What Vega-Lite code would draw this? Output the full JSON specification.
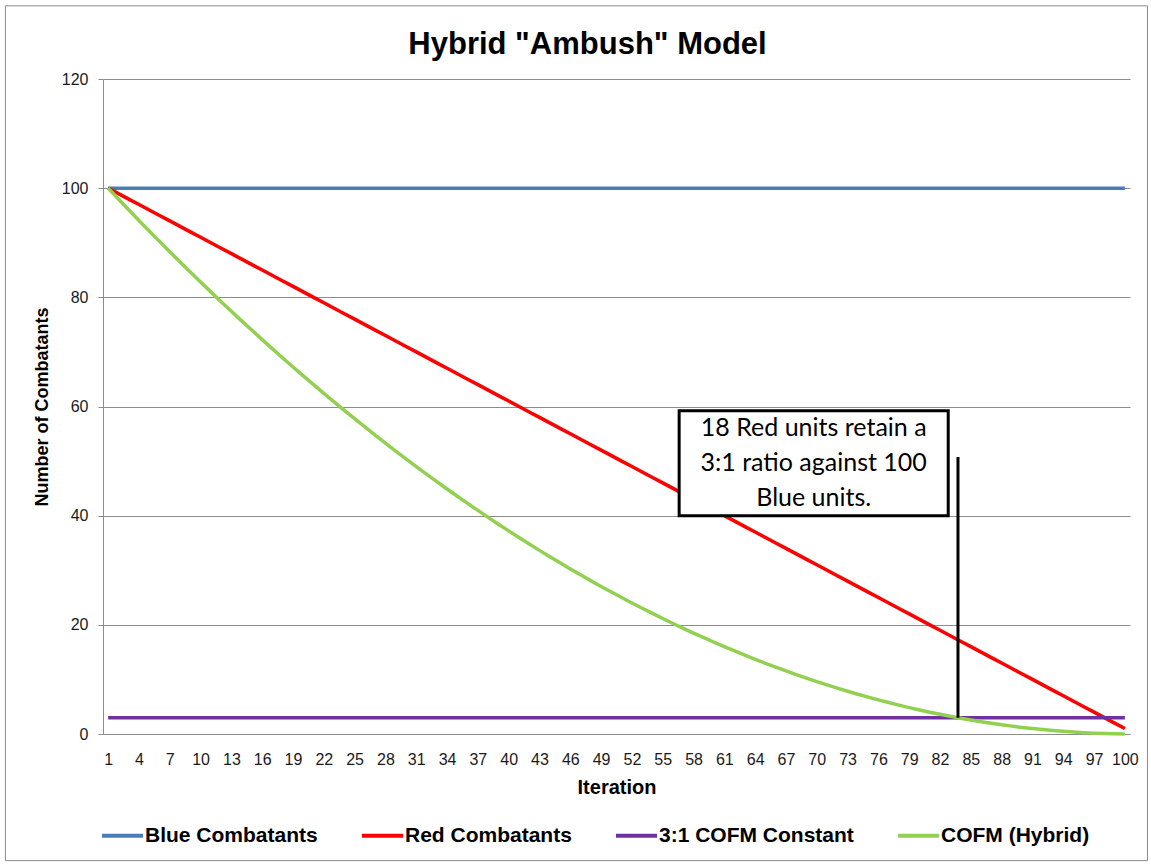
{
  "$schema": "https://vega.github.io/schema/vega-lite/v6.json",
  "autosize": "none",
  "width": 1027,
  "height": 655,
  "padding": {"left": 103, "top": 79, "right": 21, "bottom": 131},
  "background": "white",
  "config": {
    "view": {"stroke": null},
    "font": "Liberation Sans",
    "axis": {"labelOverlap": false, "labelSeparation": 0},
    "axisX": {"labelOverlap": false},
    "axisQuantitative": {"labelOverlap": false}
  },
  "title": {
    "text": "Hybrid \"Ambush\" Model",
    "font": "Liberation Sans",
    "fontSize": 31,
    "fontWeight": "bold",
    "color": "#000000",
    "anchor": "middle",
    "frame": "group",
    "dx": -29,
    "dy": 36,
    "baseline": "bottom",
    "offset": -51
  },
  "datasets": {
    "series": [
      {"i":1,"Blue Combatants":100,"Red Combatants":100,"3:1 COFM Constant":3,"COFM (Hybrid)":100},
      {"i":2,"Blue Combatants":100,"Red Combatants":99,"3:1 COFM Constant":3,"COFM (Hybrid)":98.01},
      {"i":3,"Blue Combatants":100,"Red Combatants":98,"3:1 COFM Constant":3,"COFM (Hybrid)":96.04},
      {"i":4,"Blue Combatants":100,"Red Combatants":97,"3:1 COFM Constant":3,"COFM (Hybrid)":94.09},
      {"i":5,"Blue Combatants":100,"Red Combatants":96,"3:1 COFM Constant":3,"COFM (Hybrid)":92.16},
      {"i":6,"Blue Combatants":100,"Red Combatants":95,"3:1 COFM Constant":3,"COFM (Hybrid)":90.25},
      {"i":7,"Blue Combatants":100,"Red Combatants":94,"3:1 COFM Constant":3,"COFM (Hybrid)":88.36},
      {"i":8,"Blue Combatants":100,"Red Combatants":93,"3:1 COFM Constant":3,"COFM (Hybrid)":86.49},
      {"i":9,"Blue Combatants":100,"Red Combatants":92,"3:1 COFM Constant":3,"COFM (Hybrid)":84.64},
      {"i":10,"Blue Combatants":100,"Red Combatants":91,"3:1 COFM Constant":3,"COFM (Hybrid)":82.81},
      {"i":11,"Blue Combatants":100,"Red Combatants":90,"3:1 COFM Constant":3,"COFM (Hybrid)":81},
      {"i":12,"Blue Combatants":100,"Red Combatants":89,"3:1 COFM Constant":3,"COFM (Hybrid)":79.21},
      {"i":13,"Blue Combatants":100,"Red Combatants":88,"3:1 COFM Constant":3,"COFM (Hybrid)":77.44},
      {"i":14,"Blue Combatants":100,"Red Combatants":87,"3:1 COFM Constant":3,"COFM (Hybrid)":75.69},
      {"i":15,"Blue Combatants":100,"Red Combatants":86,"3:1 COFM Constant":3,"COFM (Hybrid)":73.96},
      {"i":16,"Blue Combatants":100,"Red Combatants":85,"3:1 COFM Constant":3,"COFM (Hybrid)":72.25},
      {"i":17,"Blue Combatants":100,"Red Combatants":84,"3:1 COFM Constant":3,"COFM (Hybrid)":70.56},
      {"i":18,"Blue Combatants":100,"Red Combatants":83,"3:1 COFM Constant":3,"COFM (Hybrid)":68.89},
      {"i":19,"Blue Combatants":100,"Red Combatants":82,"3:1 COFM Constant":3,"COFM (Hybrid)":67.24},
      {"i":20,"Blue Combatants":100,"Red Combatants":81,"3:1 COFM Constant":3,"COFM (Hybrid)":65.61},
      {"i":21,"Blue Combatants":100,"Red Combatants":80,"3:1 COFM Constant":3,"COFM (Hybrid)":64},
      {"i":22,"Blue Combatants":100,"Red Combatants":79,"3:1 COFM Constant":3,"COFM (Hybrid)":62.41},
      {"i":23,"Blue Combatants":100,"Red Combatants":78,"3:1 COFM Constant":3,"COFM (Hybrid)":60.84},
      {"i":24,"Blue Combatants":100,"Red Combatants":77,"3:1 COFM Constant":3,"COFM (Hybrid)":59.29},
      {"i":25,"Blue Combatants":100,"Red Combatants":76,"3:1 COFM Constant":3,"COFM (Hybrid)":57.76},
      {"i":26,"Blue Combatants":100,"Red Combatants":75,"3:1 COFM Constant":3,"COFM (Hybrid)":56.25},
      {"i":27,"Blue Combatants":100,"Red Combatants":74,"3:1 COFM Constant":3,"COFM (Hybrid)":54.76},
      {"i":28,"Blue Combatants":100,"Red Combatants":73,"3:1 COFM Constant":3,"COFM (Hybrid)":53.29},
      {"i":29,"Blue Combatants":100,"Red Combatants":72,"3:1 COFM Constant":3,"COFM (Hybrid)":51.84},
      {"i":30,"Blue Combatants":100,"Red Combatants":71,"3:1 COFM Constant":3,"COFM (Hybrid)":50.41},
      {"i":31,"Blue Combatants":100,"Red Combatants":70,"3:1 COFM Constant":3,"COFM (Hybrid)":49},
      {"i":32,"Blue Combatants":100,"Red Combatants":69,"3:1 COFM Constant":3,"COFM (Hybrid)":47.61},
      {"i":33,"Blue Combatants":100,"Red Combatants":68,"3:1 COFM Constant":3,"COFM (Hybrid)":46.24},
      {"i":34,"Blue Combatants":100,"Red Combatants":67,"3:1 COFM Constant":3,"COFM (Hybrid)":44.89},
      {"i":35,"Blue Combatants":100,"Red Combatants":66,"3:1 COFM Constant":3,"COFM (Hybrid)":43.56},
      {"i":36,"Blue Combatants":100,"Red Combatants":65,"3:1 COFM Constant":3,"COFM (Hybrid)":42.25},
      {"i":37,"Blue Combatants":100,"Red Combatants":64,"3:1 COFM Constant":3,"COFM (Hybrid)":40.96},
      {"i":38,"Blue Combatants":100,"Red Combatants":63,"3:1 COFM Constant":3,"COFM (Hybrid)":39.69},
      {"i":39,"Blue Combatants":100,"Red Combatants":62,"3:1 COFM Constant":3,"COFM (Hybrid)":38.44},
      {"i":40,"Blue Combatants":100,"Red Combatants":61,"3:1 COFM Constant":3,"COFM (Hybrid)":37.21},
      {"i":41,"Blue Combatants":100,"Red Combatants":60,"3:1 COFM Constant":3,"COFM (Hybrid)":36},
      {"i":42,"Blue Combatants":100,"Red Combatants":59,"3:1 COFM Constant":3,"COFM (Hybrid)":34.81},
      {"i":43,"Blue Combatants":100,"Red Combatants":58,"3:1 COFM Constant":3,"COFM (Hybrid)":33.64},
      {"i":44,"Blue Combatants":100,"Red Combatants":57,"3:1 COFM Constant":3,"COFM (Hybrid)":32.49},
      {"i":45,"Blue Combatants":100,"Red Combatants":56,"3:1 COFM Constant":3,"COFM (Hybrid)":31.36},
      {"i":46,"Blue Combatants":100,"Red Combatants":55,"3:1 COFM Constant":3,"COFM (Hybrid)":30.25},
      {"i":47,"Blue Combatants":100,"Red Combatants":54,"3:1 COFM Constant":3,"COFM (Hybrid)":29.16},
      {"i":48,"Blue Combatants":100,"Red Combatants":53,"3:1 COFM Constant":3,"COFM (Hybrid)":28.09},
      {"i":49,"Blue Combatants":100,"Red Combatants":52,"3:1 COFM Constant":3,"COFM (Hybrid)":27.04},
      {"i":50,"Blue Combatants":100,"Red Combatants":51,"3:1 COFM Constant":3,"COFM (Hybrid)":26.01},
      {"i":51,"Blue Combatants":100,"Red Combatants":50,"3:1 COFM Constant":3,"COFM (Hybrid)":25},
      {"i":52,"Blue Combatants":100,"Red Combatants":49,"3:1 COFM Constant":3,"COFM (Hybrid)":24.01},
      {"i":53,"Blue Combatants":100,"Red Combatants":48,"3:1 COFM Constant":3,"COFM (Hybrid)":23.04},
      {"i":54,"Blue Combatants":100,"Red Combatants":47,"3:1 COFM Constant":3,"COFM (Hybrid)":22.09},
      {"i":55,"Blue Combatants":100,"Red Combatants":46,"3:1 COFM Constant":3,"COFM (Hybrid)":21.16},
      {"i":56,"Blue Combatants":100,"Red Combatants":45,"3:1 COFM Constant":3,"COFM (Hybrid)":20.25},
      {"i":57,"Blue Combatants":100,"Red Combatants":44,"3:1 COFM Constant":3,"COFM (Hybrid)":19.36},
      {"i":58,"Blue Combatants":100,"Red Combatants":43,"3:1 COFM Constant":3,"COFM (Hybrid)":18.49},
      {"i":59,"Blue Combatants":100,"Red Combatants":42,"3:1 COFM Constant":3,"COFM (Hybrid)":17.64},
      {"i":60,"Blue Combatants":100,"Red Combatants":41,"3:1 COFM Constant":3,"COFM (Hybrid)":16.81},
      {"i":61,"Blue Combatants":100,"Red Combatants":40,"3:1 COFM Constant":3,"COFM (Hybrid)":16},
      {"i":62,"Blue Combatants":100,"Red Combatants":39,"3:1 COFM Constant":3,"COFM (Hybrid)":15.21},
      {"i":63,"Blue Combatants":100,"Red Combatants":38,"3:1 COFM Constant":3,"COFM (Hybrid)":14.44},
      {"i":64,"Blue Combatants":100,"Red Combatants":37,"3:1 COFM Constant":3,"COFM (Hybrid)":13.69},
      {"i":65,"Blue Combatants":100,"Red Combatants":36,"3:1 COFM Constant":3,"COFM (Hybrid)":12.96},
      {"i":66,"Blue Combatants":100,"Red Combatants":35,"3:1 COFM Constant":3,"COFM (Hybrid)":12.25},
      {"i":67,"Blue Combatants":100,"Red Combatants":34,"3:1 COFM Constant":3,"COFM (Hybrid)":11.56},
      {"i":68,"Blue Combatants":100,"Red Combatants":33,"3:1 COFM Constant":3,"COFM (Hybrid)":10.89},
      {"i":69,"Blue Combatants":100,"Red Combatants":32,"3:1 COFM Constant":3,"COFM (Hybrid)":10.24},
      {"i":70,"Blue Combatants":100,"Red Combatants":31,"3:1 COFM Constant":3,"COFM (Hybrid)":9.61},
      {"i":71,"Blue Combatants":100,"Red Combatants":30,"3:1 COFM Constant":3,"COFM (Hybrid)":9},
      {"i":72,"Blue Combatants":100,"Red Combatants":29,"3:1 COFM Constant":3,"COFM (Hybrid)":8.41},
      {"i":73,"Blue Combatants":100,"Red Combatants":28,"3:1 COFM Constant":3,"COFM (Hybrid)":7.84},
      {"i":74,"Blue Combatants":100,"Red Combatants":27,"3:1 COFM Constant":3,"COFM (Hybrid)":7.29},
      {"i":75,"Blue Combatants":100,"Red Combatants":26,"3:1 COFM Constant":3,"COFM (Hybrid)":6.76},
      {"i":76,"Blue Combatants":100,"Red Combatants":25,"3:1 COFM Constant":3,"COFM (Hybrid)":6.25},
      {"i":77,"Blue Combatants":100,"Red Combatants":24,"3:1 COFM Constant":3,"COFM (Hybrid)":5.76},
      {"i":78,"Blue Combatants":100,"Red Combatants":23,"3:1 COFM Constant":3,"COFM (Hybrid)":5.29},
      {"i":79,"Blue Combatants":100,"Red Combatants":22,"3:1 COFM Constant":3,"COFM (Hybrid)":4.84},
      {"i":80,"Blue Combatants":100,"Red Combatants":21,"3:1 COFM Constant":3,"COFM (Hybrid)":4.41},
      {"i":81,"Blue Combatants":100,"Red Combatants":20,"3:1 COFM Constant":3,"COFM (Hybrid)":4},
      {"i":82,"Blue Combatants":100,"Red Combatants":19,"3:1 COFM Constant":3,"COFM (Hybrid)":3.61},
      {"i":83,"Blue Combatants":100,"Red Combatants":18,"3:1 COFM Constant":3,"COFM (Hybrid)":3.24},
      {"i":84,"Blue Combatants":100,"Red Combatants":17,"3:1 COFM Constant":3,"COFM (Hybrid)":2.89},
      {"i":85,"Blue Combatants":100,"Red Combatants":16,"3:1 COFM Constant":3,"COFM (Hybrid)":2.56},
      {"i":86,"Blue Combatants":100,"Red Combatants":15,"3:1 COFM Constant":3,"COFM (Hybrid)":2.25},
      {"i":87,"Blue Combatants":100,"Red Combatants":14,"3:1 COFM Constant":3,"COFM (Hybrid)":1.96},
      {"i":88,"Blue Combatants":100,"Red Combatants":13,"3:1 COFM Constant":3,"COFM (Hybrid)":1.69},
      {"i":89,"Blue Combatants":100,"Red Combatants":12,"3:1 COFM Constant":3,"COFM (Hybrid)":1.44},
      {"i":90,"Blue Combatants":100,"Red Combatants":11,"3:1 COFM Constant":3,"COFM (Hybrid)":1.21},
      {"i":91,"Blue Combatants":100,"Red Combatants":10,"3:1 COFM Constant":3,"COFM (Hybrid)":1},
      {"i":92,"Blue Combatants":100,"Red Combatants":9,"3:1 COFM Constant":3,"COFM (Hybrid)":0.81},
      {"i":93,"Blue Combatants":100,"Red Combatants":8,"3:1 COFM Constant":3,"COFM (Hybrid)":0.64},
      {"i":94,"Blue Combatants":100,"Red Combatants":7,"3:1 COFM Constant":3,"COFM (Hybrid)":0.49},
      {"i":95,"Blue Combatants":100,"Red Combatants":6,"3:1 COFM Constant":3,"COFM (Hybrid)":0.36},
      {"i":96,"Blue Combatants":100,"Red Combatants":5,"3:1 COFM Constant":3,"COFM (Hybrid)":0.25},
      {"i":97,"Blue Combatants":100,"Red Combatants":4,"3:1 COFM Constant":3,"COFM (Hybrid)":0.16},
      {"i":98,"Blue Combatants":100,"Red Combatants":3,"3:1 COFM Constant":3,"COFM (Hybrid)":0.09},
      {"i":99,"Blue Combatants":100,"Red Combatants":2,"3:1 COFM Constant":3,"COFM (Hybrid)":0.04},
      {"i":100,"Blue Combatants":100,"Red Combatants":1,"3:1 COFM Constant":3,"COFM (Hybrid)":0.01}
    ]
  },
  "encoding": {
    "x": {
      "field": "i",
      "type": "quantitative",
      "scale": {"domain": [0.5, 100.5], "nice": false, "zero": false},
      "axis": {
        "values": [1,4,7,10,13,16,19,22,25,28,31,34,37,40,43,46,49,52,55,58,61,64,67,70,73,76,79,82,85,88,91,94,97,100],
        "title": "Iteration",
        "grid": false,
        "ticks": false,
        "tickSize": 0,
        "domainColor": "#8c8c8c",
        "domainWidth": 1,
        "labelFont": "Liberation Sans",
        "labelFontSize": 16,
        "labelColor": "#1a1a1a",
        "labelPadding": 17,
        "labelFlush": false,
        "labelOverlap": false,
        "labelSeparation": 0,
        "titleFont": "Liberation Sans",
        "titleFontSize": 20,
        "titleFontWeight": "bold",
        "titleColor": "#000000",
        "titlePadding": 10
      }
    },
    "y": {
      "field": "value",
      "type": "quantitative",
      "scale": {"domain": [0, 120], "nice": false},
      "axis": {
        "values": [0, 20, 40, 60, 80, 100, 120],
        "title": "Number of Combatants",
        "grid": true,
        "gridColor": "#8c8c8c",
        "gridWidth": 1,
        "domainColor": "#8c8c8c",
        "tickColor": "#8c8c8c",
        "tickSize": 5,
        "labelFont": "Liberation Sans",
        "labelFontSize": 16,
        "labelColor": "#1a1a1a",
        "labelPadding": 10,
        "titleFont": "Liberation Sans",
        "titleFontSize": 18,
        "titleFontWeight": "bold",
        "titleColor": "#000000",
        "titlePadding": 10
      }
    }
  },
  "layer": [
    {
      "data": {"name": "series"},
      "transform": [
        {"fold": ["Blue Combatants", "Red Combatants", "3:1 COFM Constant", "COFM (Hybrid)"], "as": ["series", "value"]}
      ],
      "mark": {"type": "line", "strokeWidth": 3.5},
      "encoding": {
        "color": {
          "field": "series",
          "type": "nominal",
          "scale": {
            "domain": ["Blue Combatants", "Red Combatants", "3:1 COFM Constant", "COFM (Hybrid)"],
            "range": ["#4a7ebb", "#ff0000", "#7030a0", "#92d050"]
          },
          "legend": {
            "title": null,
            "orient": "none",
            "direction": "horizontal",
            "legendX": -3,
            "legendY": 734,
            "symbolType": "stroke",
            "symbolSize": 1681,
            "symbolStrokeWidth": 4,
            "labelOffset": 0,
            "columnPadding": 36,
            "labelFont": "Liberation Sans",
            "labelFontSize": 21,
            "labelFontWeight": "bold",
            "labelColor": "#000000",
            "labelLimit": 400
          }
        }
      }
    },
    {
      "data": {"values": [{"i": -9.0, "i2": 102.2, "value": -23.2, "value2": 133.4}]},
      "mark": {"type": "rect", "fill": null, "stroke": "#8a8a8a", "strokeWidth": 1, "clip": false},
      "encoding": {
        "x2": {"field": "i2"},
        "y2": {"field": "value2"}
      }
    },
    {
      "data": {"values": [{"i": 56.6, "i2": 82.8, "value": 40, "value2": 59.2}]},
      "mark": {"type": "rect", "fill": "white", "stroke": "black", "strokeWidth": 3},
      "encoding": {
        "x2": {"field": "i2"},
        "y2": {"field": "value2"}
      }
    },
    {
      "data": {"values": [
        {"i": 69.7, "value": 56.1, "t": "18 Red units retain a"},
        {"i": 69.7, "value": 49.6, "t": "3:1 ratio against 100"},
        {"i": 69.7, "value": 43.3, "t": "Blue units."}
      ]},
      "mark": {"type": "text", "font": "Lato", "fontSize": 25, "color": "black", "align": "center", "baseline": "middle"},
      "encoding": {
        "text": {"field": "t"}
      }
    },
    {
      "data": {"values": [{"i": 83.75, "value": 3, "value2": 50.75}]},
      "mark": {"type": "rule", "color": "black", "strokeWidth": 3},
      "encoding": {
        "y2": {"field": "value2"}
      }
    }
  ]
}
